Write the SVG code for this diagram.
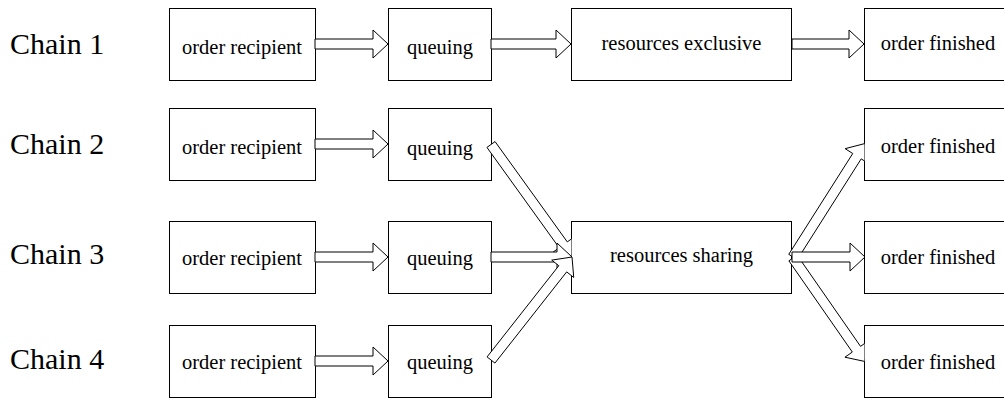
<svg xmlns="http://www.w3.org/2000/svg" width="1004" height="401" viewBox="0 0 1004 401">
  <style>
    .box { fill: #fff; stroke: #000; stroke-width: 1; }
    text { font-family: 'Liberation Serif', 'Times New Roman', serif; fill: #000; }
    .lbl { font-size: 20.5px; text-anchor: middle; }
    .chain { font-size: 30px; }
    .arr { fill: #fff; stroke: #000; stroke-width: 1; stroke-linejoin: miter; }
  </style>
  <defs>
    <!-- keep arrowheads from drawing into the target box -->
    <clipPath id="clipShare"><rect x="0" y="0" width="571.5" height="401"/></clipPath>
    <clipPath id="clipDone"><rect x="0" y="0" width="864.5" height="401"/></clipPath>
  </defs>
  <rect width="1004" height="401" fill="#fff"/>

  <!-- row labels -->
  <g id="labels">
    <text class="chain" x="10" y="54">Chain 1</text>
    <text class="chain" x="10" y="154">Chain 2</text>
    <text class="chain" x="10" y="264">Chain 3</text>
    <text class="chain" x="10" y="369">Chain 4</text>
  </g>

  <!-- chain 1 -->
  <g id="c1-recipient"><rect class="box" x="169.5" y="8.5" width="146" height="72"/><text class="lbl" x="242" y="54">order recipient</text></g>
  <g id="c1-queuing"><rect class="box" x="388.5" y="8.5" width="103" height="72"/><text class="lbl" x="440" y="54">queuing</text></g>
  <g id="c1-exclusive"><rect class="box" x="571.5" y="8.5" width="220" height="72"/><text class="lbl" x="681.5" y="50">resources exclusive</text></g>
  <g id="c1-finished"><rect class="box" x="864.5" y="8.5" width="148" height="72"/><text class="lbl" x="938" y="50">order finished</text></g>

  <!-- chain 2 -->
  <g id="c2-recipient"><rect class="box" x="169.5" y="108.5" width="146" height="72"/><text class="lbl" x="242" y="154">order recipient</text></g>
  <g id="c2-queuing"><rect class="box" x="388.5" y="108.5" width="103" height="72"/><text class="lbl" x="440" y="155">queuing</text></g>
  <g id="c2-finished"><rect class="box" x="864.5" y="108.5" width="148" height="72"/><text class="lbl" x="938" y="153">order finished</text></g>

  <!-- chain 3 -->
  <g id="c3-recipient"><rect class="box" x="169.5" y="221.5" width="146" height="72"/><text class="lbl" x="242" y="265">order recipient</text></g>
  <g id="c3-queuing"><rect class="box" x="388.5" y="221.5" width="103" height="72"/><text class="lbl" x="440" y="265">queuing</text></g>
  <g id="sharing"><rect class="box" x="571.5" y="221.5" width="220" height="72"/><text class="lbl" x="681.5" y="262">resources sharing</text></g>
  <g id="c3-finished"><rect class="box" x="864.5" y="221.5" width="148" height="72"/><text class="lbl" x="938" y="264">order finished</text></g>

  <!-- chain 4 -->
  <g id="c4-recipient"><rect class="box" x="169.5" y="325.5" width="146" height="72"/><text class="lbl" x="242" y="369">order recipient</text></g>
  <g id="c4-queuing"><rect class="box" x="388.5" y="325.5" width="103" height="72"/><text class="lbl" x="440" y="369">queuing</text></g>
  <g id="c4-finished"><rect class="box" x="864.5" y="325.5" width="148" height="72"/><text class="lbl" x="938" y="369">order finished</text></g>

  <!-- hollow block arrows -->
  <g id="connectors">
    <polygon class="arr" points="315,39 373,39 373,30 388,44 373,58 373,49 315,49"/>
    <polygon class="arr" points="491,39 556,39 556,30 571,44 556,58 556,49 491,49"/>
    <polygon class="arr" points="792,39 849,39 849,30 864,44 849,58 849,49 792,49"/>

    <polygon class="arr" points="315,139 373,139 373,130 388,144 373,158 373,149 315,149"/>
    <polygon class="arr" points="315,252 373,252 373,243 388,257 373,271 373,262 315,262"/>
    <polygon class="arr" points="315,356 373,356 373,347 388,361 373,375 373,366 315,366"/>

    <!-- queues merging into the shared resource -->
    <polygon class="arr" clip-path="url(#clipShare)" points="495.06,141.58 567.30,241.91 574.60,236.65 572,257 551.88,253.01 559.18,247.75 486.94,147.42"/>
    <polygon class="arr" points="491,252 557,252 557,243 572,257 557,271 557,262 491,262"/>
    <polygon class="arr" points="494.93,363.09 566.66,271.88 573.73,277.44 572,257 551.73,260.14 558.80,265.70 487.07,356.91"/>

    <!-- shared resource fanning out -->
    <polygon class="arr" clip-path="url(#clipDone)" points="797.10,255.14 860.53,346.33 867.92,341.19 865,361.5 844.94,357.19 852.33,352.05 788.90,260.86"/>
    <polygon class="arr" clip-path="url(#clipDone)" points="797.22,259.68 861.19,158.85 868.79,163.67 865,143.5 845.15,148.67 852.75,153.49 788.78,254.32"/>
    <polygon class="arr" points="792,252 850,252 850,243 865,257 850,271 850,262 792,262"/>
  </g>
</svg>
